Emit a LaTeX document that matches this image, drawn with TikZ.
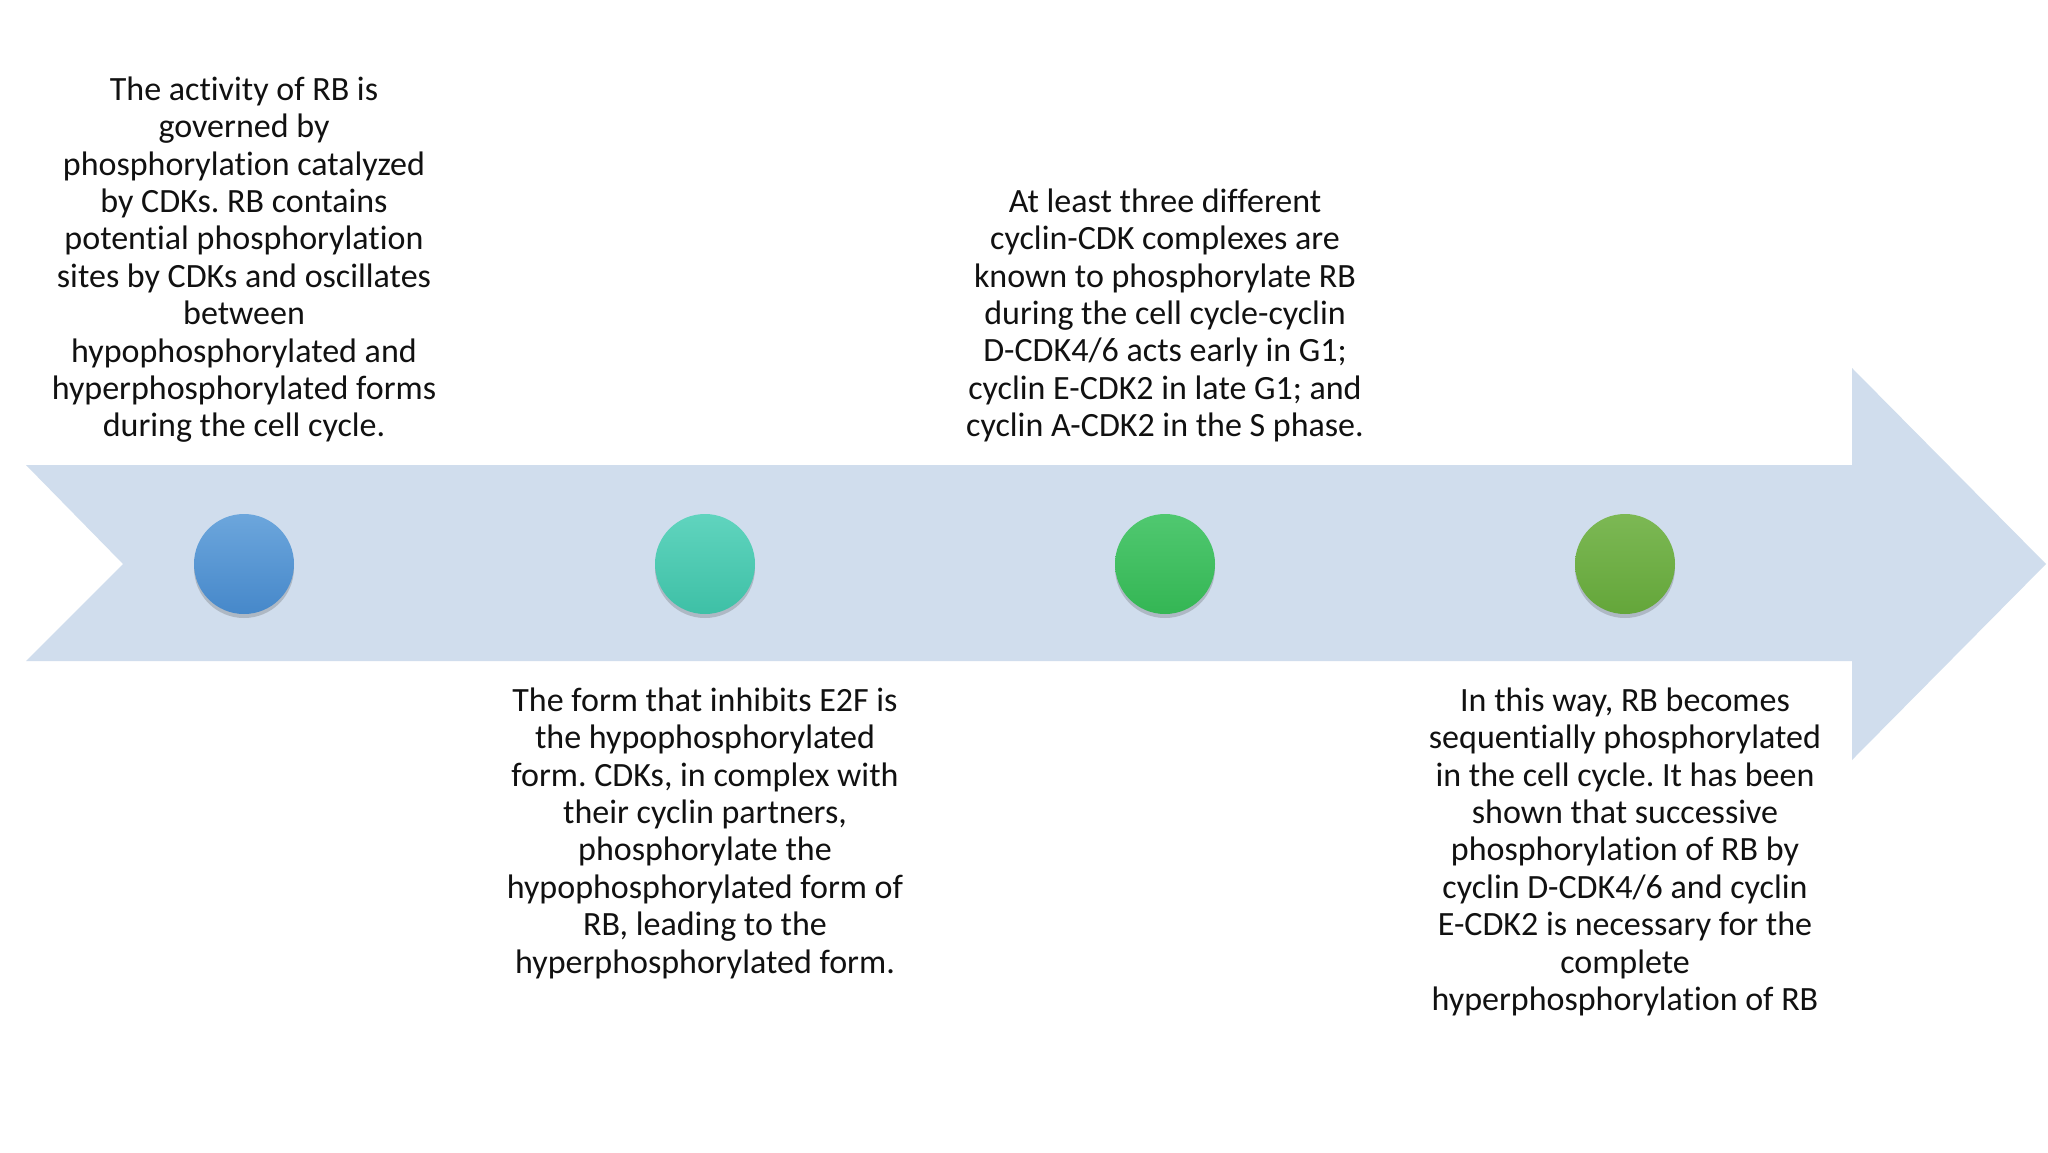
\documentclass[tikz,border=0pt]{standalone}
\usepackage{fontspec}
\setmainfont{Carlito}[Ligatures=CommonOff]
\usetikzlibrary{shadows}
\newcommand\tI{t\kern0pt i}
\definecolor{arrowfill}{RGB}{208,221,237}
\definecolor{txt}{RGB}{17,17,17}
\definecolor{c1top}{RGB}{108,166,220}\definecolor{c1bot}{RGB}{70,136,202}
\definecolor{c2top}{RGB}{96,212,190}\definecolor{c2bot}{RGB}{62,192,166}
\definecolor{c3top}{RGB}{80,200,112}\definecolor{c3bot}{RGB}{52,182,84}
\definecolor{c4top}{RGB}{124,184,84}\definecolor{c4bot}{RGB}{100,166,58}
\tikzset{
  dot/.style={circle, minimum size=100pt, inner sep=0pt,
    drop shadow={shadow xshift=0pt, shadow yshift=-4pt, opacity=0.25, fill=black!70}},
  blurb/.style={anchor=north, align=center, inner sep=0pt, text=txt,
    font=\fontsize{34}{37.4}\selectfont\frenchspacing}
}
\begin{document}
\begin{tikzpicture}[x=1pt,y=-1pt]
\useasboundingbox (0,0) rectangle (2048,1152);
\fill[white] (0,0) rectangle (2048,1152);
% big arrow
\fill[arrowfill] (26,465) -- (1852,465) -- (1852,368) -- (2046,564) -- (1852,760)
  -- (1852,661) -- (26,661) -- (123,564) -- cycle;
% circles
\node[dot, top color=c1top, bottom color=c1bot] (c1) at (244,564) {};
\node[dot, top color=c2top, bottom color=c2bot] (c2) at (705,564) {};
\node[dot, top color=c3top, bottom color=c3bot] (c3) at (1165,564) {};
\node[dot, top color=c4top, bottom color=c4bot] (c4) at (1625,564) {};
% texts
\node[blurb] (t1) at (244,74) {\strut The ac\tI vity of RB is\\governed by\\phosphoryla\tI on catalyzed\\by CDKs. RB contains\\poten\tI al phosphoryla\tI on\\sites by CDKs and oscillates\\between\\hypophosphorylated and\\hyperphosphorylated forms\\during the cell cycle.};
\node[blurb] (t3) at (1165,186) {\strut At least three different\\cyclin-CDK complexes are\\known to phosphorylate RB\\during the cell cycle-cyclin\\D-CDK4/6 acts early in G1;\\cyclin E-CDK2 in late G1; and\\cyclin A-CDK2 in the S phase.};
\node[blurb] (t2) at (705,685) {\strut The form that inhibits E2F is\\the hypophosphorylated\\form. CDKs, in complex with\\their cyclin partners,\\phosphorylate the\\hypophosphorylated form of\\RB, leading to the\\hyperphosphorylated form.};
\node[blurb] (t4) at (1625,685) {\strut In this way, RB becomes\\sequen\tI ally phosphorylated\\in the cell cycle. It has been\\shown that successive\\phosphoryla\tI on of RB by\\cyclin D-CDK4/6 and cyclin\\E-CDK2 is necessary for the\\complete\\hyperphosphoryla\tI on of RB};
\end{tikzpicture}
\end{document}
